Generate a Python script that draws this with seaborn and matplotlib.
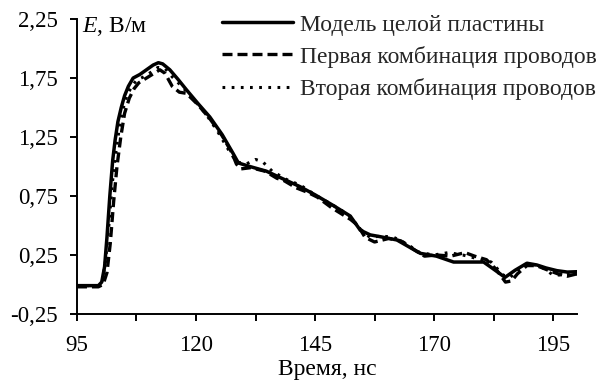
import pandas as pd
import matplotlib
matplotlib.use("Agg")
import matplotlib.pyplot as plt
import seaborn as sns

# Values
solid_x = [95, 99.5, 100.2, 100.8, 101.3, 101.9, 102.5, 103.0, 103.6, 104.3, 105.0, 105.8,
           106.8, 108.2, 109.6, 111.0, 112.1, 113.0, 114.5, 116.2, 118.0, 120.5, 122.9, 125.5,
           127.8, 128.9, 131.3, 134.8, 138.0, 141.8, 145.0, 148.8, 152.4, 154.5, 156.6, 158.7,
           162.2, 167.1, 170.5, 174.1, 177.0, 180.4, 182.5, 184.9, 187.0, 189.5, 191.6, 193.5,
           195.8, 198.0, 200]
solid_y = [-0.01, -0.01, 0.02, 0.15, 0.4, 0.75, 1.05, 1.22, 1.38, 1.5, 1.6, 1.68,
           1.75, 1.78, 1.82, 1.86, 1.88, 1.87, 1.82, 1.74, 1.65, 1.53, 1.42, 1.27,
           1.11, 1.03, 1.0, 0.96, 0.9, 0.83, 0.76, 0.67, 0.58, 0.46, 0.42, 0.405,
           0.377, 0.264, 0.24, 0.19, 0.19, 0.19, 0.13, 0.06, 0.12, 0.18, 0.165, 0.14,
           0.117, 0.105, 0.108]

dashed_x = [95, 99.5, 100.5, 101.3, 102.0, 102.7, 103.4, 104.2, 105.0, 106.0, 107.0, 108.0,
            110.0, 112.4, 113.5, 115.0, 116.5, 118.0, 120.5, 123.0, 125.5, 127.5, 128.5, 129.5,
            131.5, 134.5, 137.0, 138.5, 141.0, 143.5, 145.5, 148.5, 150.5, 152.5, 154.0, 155.5,
            157.5, 160.5, 163.0, 166.0, 168.0, 170.5, 173.5, 176.5, 178.5, 181.0, 183.0, 185.0,
            186.3, 187.5, 189.5, 191.5, 194.0, 196.0, 198.0, 200]
dashed_y = [-0.02, -0.02, 0.0, 0.1, 0.35, 0.7, 1.0, 1.25, 1.45, 1.58, 1.66, 1.71,
            1.76, 1.82, 1.79, 1.68, 1.63, 1.62, 1.52, 1.40, 1.26, 1.12, 1.02, 0.98,
            0.99, 0.96, 0.9, 0.88, 0.82, 0.78, 0.74, 0.65, 0.6, 0.55, 0.5, 0.4,
            0.36, 0.39, 0.37, 0.29, 0.24, 0.25, 0.24, 0.27, 0.24, 0.21, 0.13, 0.02,
            0.03, 0.09, 0.16, 0.16, 0.12, 0.09, 0.07, 0.09]

dotted_x = [95, 99.5, 100.3, 101.0, 101.7, 102.4, 103.1, 103.8, 104.6, 105.5, 106.5, 107.5,
            109.5, 112.0, 113.5, 115.0, 117.0, 119.5, 122.0, 124.5, 127.0, 128.5, 130.5, 132.5,
            134.0, 136.0, 139.0, 142.0, 145.0, 148.0, 150.5, 152.5, 154.5, 156.5, 159.0, 161.5,
            164.0, 167.0, 170.0, 173.0, 176.0, 179.0, 182.0, 184.5, 186.0, 188.0, 190.0, 192.5,
            195.0, 197.0, 200]
dotted_y = [-0.01, -0.01, 0.02, 0.2, 0.5, 0.85, 1.1, 1.3, 1.48, 1.6, 1.68, 1.73,
            1.77, 1.84, 1.83, 1.76, 1.68, 1.57, 1.45, 1.30, 1.13, 1.04, 1.02, 1.06,
            1.04, 0.96, 0.89, 0.84, 0.76, 0.69, 0.63, 0.57, 0.47, 0.40, 0.41, 0.40,
            0.35, 0.27, 0.25, 0.27, 0.25, 0.22, 0.19, 0.08, 0.06, 0.14, 0.18, 0.15,
            0.08, 0.08, 0.09]

labels = ["Модель целой пластины", "Первая комбинация проводов", "Вторая комбинация проводов"]
x_ticks = [95, 120, 145, 170, 195]
y_ticks = [-0.25, 0.25, 0.75, 1.25, 1.75, 2.25]
y_tick_labels = ["-0,25", "0,25", "0,75", "1,25", "1,75", "2,25"]

sns.set_theme(style="ticks")
plt.rcParams["font.family"] = ["Liberation Serif", "DejaVu Serif"]
plt.rcParams["mathtext.fontset"] = "custom"
plt.rcParams["mathtext.it"] = "Liberation Serif:italic"
plt.rcParams["mathtext.rm"] = "Liberation Serif"

FS = 17

fig = plt.figure(figsize=(6.06, 3.81), dpi=100)
ax = fig.add_axes([0.127, 0.176, 0.825, 0.774])

sns.lineplot(x=solid_x, y=solid_y, ax=ax, color="black", linewidth=2.5, label=labels[0])
sns.lineplot(x=dashed_x, y=dashed_y, ax=ax, color="black", linewidth=2.4,
             linestyle=(0, (3.0, 1.5)), label=labels[1])
sns.lineplot(x=dotted_x, y=dotted_y, ax=ax, color="black", linewidth=2.2,
             linestyle=(0, (0.9, 2.1)), label=labels[2])

ax.set_xlim(95, 200)
ax.set_ylim(-0.25, 2.25)
ax.set_xticks(x_ticks)
ax.set_xticks([107.5, 132.5, 157.5, 182.5], minor=True)
ax.set_yticks(y_ticks)
ax.set_yticklabels(y_tick_labels)
ax.tick_params(axis="both", which="both", direction="out", length=5, width=1.4,
               color="black", labelsize=16.5, labelcolor="black")
ax.tick_params(axis="y", pad=9)
ax.tick_params(axis="x", pad=10)

sns.despine(ax=ax)
for side in ["left", "bottom"]:
    ax.spines[side].set_color("black")
    ax.spines[side].set_linewidth(1.4)

ax.set_xlabel("Время, нс", fontsize=FS, color="black", labelpad=2)
ax.set_ylabel("")
ax.text(0.01, 0.975, r"$E$, В/м", transform=ax.transAxes, fontsize=FS,
        ha="left", va="center", color="black")

ax.legend(loc="upper left", bbox_to_anchor=(222 / 606, 1 - 14 / 381),
          bbox_transform=fig.transFigure, frameon=False, fontsize=FS,
          handlelength=3.0, handletextpad=0.3, labelspacing=0.43,
          borderpad=0, borderaxespad=0)

fig.savefig("out.png", dpi=100)
